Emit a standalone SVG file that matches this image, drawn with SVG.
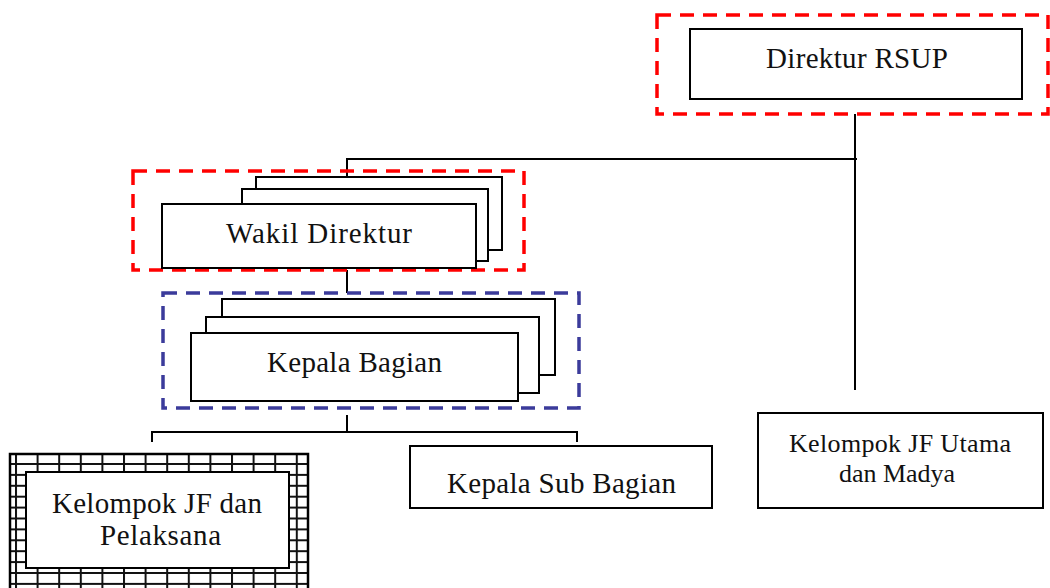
<svg xmlns="http://www.w3.org/2000/svg" width="1050" height="588" viewBox="0 0 1050 588">
<style>
.box{fill:#fff;stroke:#000;stroke-width:2}
.lbl{font-family:"Liberation Serif","Times New Roman",serif;font-size:29px;fill:#111;text-anchor:middle}
.sm{font-size:26px}
.con{fill:none;stroke:#000;stroke-width:2}
.red{fill:none;stroke:#ff0000;stroke-width:3.5;stroke-dasharray:14 9}
.blue{fill:none;stroke:#3b3b9b;stroke-width:3.5;stroke-dasharray:14 9}
</style>
<defs>
<pattern id="grid" patternUnits="userSpaceOnUse" x="15" y="463" width="21.6" height="10.9">
<path d="M1 0V10.9M0 1H21.6" stroke="#111" stroke-width="2" fill="none"/>
</pattern>
</defs>
<rect width="1050" height="588" fill="#fff"/>
<g id="connectors">
<path class="con" d="M855 114V390"/>
<path class="con" d="M857 159H347V201"/>
<path class="con" d="M347 270V293"/>
<path class="con" d="M347 415V432"/>
<path class="con" d="M152 442V432H577V442"/>
</g>
<g id="direktur">
<rect class="red" x="657" y="15" width="391" height="99"/>
<rect class="box" x="690" y="29" width="332" height="70"/>
<text class="lbl" x="857" y="68" textLength="182" lengthAdjust="spacing">Direktur RSUP</text>
</g>
<g id="wakil-direktur">
<rect class="red" x="133" y="171" width="391" height="99"/>
<rect class="box" x="256" y="177" width="246" height="73"/>
<rect class="box" x="242" y="189" width="246" height="72"/>
<rect class="box" x="162" y="204" width="314" height="64"/>
<text class="lbl" x="319" y="243" textLength="186" lengthAdjust="spacing">Wakil Direktur</text>
</g>
<g id="kepala-bagian">
<rect class="blue" x="163" y="293" width="416" height="115"/>
<rect class="box" x="222" y="299" width="333" height="76"/>
<rect class="box" x="206" y="317" width="333" height="76"/>
<rect class="box" x="191" y="333" width="327" height="68"/>
<text class="lbl" x="354.5" y="372" textLength="175" lengthAdjust="spacing">Kepala Bagian</text>
</g>
<g id="kepala-sub-bagian">
<rect class="box" x="410" y="446" width="302" height="62"/>
<text class="lbl" x="561.5" y="493" textLength="229" lengthAdjust="spacing">Kepala Sub Bagian</text>
</g>
<g id="kelompok-jf-utama">
<rect class="box" x="758" y="413" width="285" height="95"/>
<text class="lbl sm" x="900" y="452" textLength="222" lengthAdjust="spacing">Kelompok JF Utama</text>
<text class="lbl sm" x="897" y="482">dan Madya</text>
</g>
<g id="kelompok-jf-pelaksana">
<rect x="10" y="454" width="298" height="150" fill="url(#grid)" stroke="#000" stroke-width="2.5"/>
<rect class="box" x="26" y="472" width="263" height="96"/>
<text class="lbl" x="157" y="513" textLength="210" lengthAdjust="spacing">Kelompok JF dan</text>
<text class="lbl" x="160.5" y="545" textLength="121" lengthAdjust="spacing">Pelaksana</text>
</g>
</svg>
